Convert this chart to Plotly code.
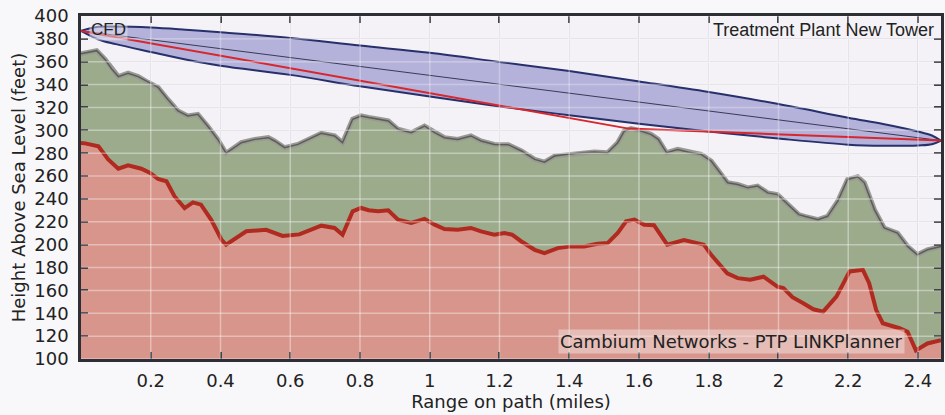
import plotly.graph_objects as go

# ---------------- data ----------------
terrain_dist = [0.0, 0.012, 0.05, 0.078, 0.107, 0.135, 0.173, 0.197, 0.221, 0.245, 0.268,
                0.297, 0.321, 0.344, 0.373, 0.403, 0.416, 0.474, 0.531, 0.578, 0.626, 0.669,
                0.689, 0.727, 0.750, 0.779, 0.803, 0.825, 0.852, 0.881, 0.909, 0.947, 0.985,
                1.014, 1.042, 1.080, 1.118, 1.147, 1.185, 1.214, 1.236, 1.263, 1.301, 1.329,
                1.367, 1.405, 1.443, 1.481, 1.510, 1.539, 1.563, 1.587, 1.615, 1.643, 1.681,
                1.729, 1.786, 1.807, 1.835, 1.853, 1.883, 1.919, 1.957, 1.997, 2.014, 2.040,
                2.071, 2.100, 2.128, 2.166, 2.204, 2.242, 2.260, 2.280, 2.299, 2.347, 2.370,
                2.394, 2.427, 2.466]
terrain_ft = [289.0, 288.6, 286.0, 274.6, 266.4, 269.3, 266.4, 262.9, 257.6, 255.5, 242.4,
              232.0, 237.0, 235.0, 221.9, 204.3, 200.0, 211.7, 213.0, 207.6, 209.0, 214.5,
              216.6, 214.6, 208.7, 229.2, 232.1, 230.1, 229.2, 230.1, 221.9, 219.0, 222.5,
              217.5, 213.7, 213.1, 214.6, 211.6, 208.7, 210.2, 208.7, 202.8, 195.5, 192.6,
              197.0, 198.5, 198.5, 200.8, 201.4, 210.2, 220.4, 221.9, 217.5, 217.0, 200.0,
              204.0, 200.0, 191.1, 180.9, 175.0, 170.7, 169.3, 172.0, 163.3, 162.0, 154.0,
              148.8, 143.5, 141.4, 154.6, 176.6, 178.0, 166.3, 143.0, 131.3, 126.9, 123.8,
              107.5, 113.6, 116.5]

clutter_dist = [0.0, 0.045, 0.069, 0.088, 0.107, 0.135, 0.164, 0.192, 0.221, 0.249, 0.278,
                0.306, 0.335, 0.363, 0.392, 0.416, 0.460, 0.498, 0.537, 0.555, 0.584, 0.622,
                0.660, 0.689, 0.727, 0.750, 0.779, 0.803, 0.825, 0.852, 0.881, 0.909, 0.947,
                0.985, 1.014, 1.042, 1.080, 1.118, 1.147, 1.185, 1.225, 1.263, 1.301, 1.329,
                1.358, 1.396, 1.434, 1.472, 1.510, 1.539, 1.558, 1.577, 1.605, 1.634, 1.655,
                1.679, 1.711, 1.740, 1.778, 1.807, 1.835, 1.854, 1.883, 1.912, 1.940, 1.969,
                1.997, 2.026, 2.058, 2.075, 2.113, 2.141, 2.170, 2.198, 2.227, 2.246, 2.275,
                2.303, 2.341, 2.370, 2.398, 2.427, 2.466]
clutter_ft = [367.0, 369.7, 362.0, 353.6, 347.0, 350.0, 347.0, 342.0, 337.5, 327.0, 317.0,
              312.6, 314.0, 303.8, 292.0, 280.0, 289.2, 292.1, 293.6, 290.7, 284.8, 287.7,
              293.6, 297.4, 295.1, 289.2, 309.7, 312.6, 311.2, 309.7, 308.2, 300.9, 298.0,
              303.8, 298.0, 293.6, 292.1, 295.1, 290.7, 287.7, 287.5, 281.9, 274.6, 272.2,
              277.5, 279.0, 280.4, 281.0, 280.4, 289.2, 299.4, 301.5, 299.4, 296.5, 292.1,
              280.4, 283.3, 281.0, 279.0, 273.1, 261.4, 254.1, 252.6, 249.7, 251.2, 245.3,
              243.8, 235.1, 226.3, 224.8, 221.9, 224.8, 238.0, 257.0, 259.4, 254.1, 230.7,
              214.6, 210.2, 198.5, 191.1, 195.5, 198.5]

fresnel_dist = [0.0, 0.05, 0.1, 0.2, 0.3, 0.4, 0.6, 0.8, 1.0, 1.2, 1.4, 1.6, 1.8, 2.0,
                2.2, 2.3, 2.4, 2.44, 2.466]
fresnel_upper = [387.0, 390.5, 390.8, 389.9, 388.0, 385.8, 380.8, 374.1, 367.8, 359.8,
                 351.8, 342.8, 333.5, 323.0, 311.0, 305.5, 299.0, 295.5, 291.0]
fresnel_lower = [387.0, 379.5, 375.4, 368.6, 362.0, 356.5, 348.5, 338.5, 329.5, 320.8,
                 313.2, 305.8, 299.0, 292.8, 287.5, 286.5, 286.8, 287.8, 291.0]

los_dist = [0.0, 2.466]
los_ft = [387.0, 291.0]

obstr_dist = [0.0, 1.57, 2.466]
obstr_ft = [387.0, 301.5, 291.0]

x_ticks = [0.2, 0.4, 0.6, 0.8, 1.0, 1.2, 1.4, 1.6, 1.8, 2.0, 2.2, 2.4]
x_ticklabels = ["0.2", "0.4", "0.6", "0.8", "1", "1.2", "1.4", "1.6", "1.8", "2", "2.2", "2.4"]
y_ticks = list(range(100, 401, 20))

# ---------------- figure ----------------
fig = go.Figure()

# terrain (red) fill
fig.add_trace(go.Scatter(x=terrain_dist, y=terrain_ft, mode="lines", line=dict(width=0),
                         fill="tozeroy", fillcolor="#d8958b", hoverinfo="skip", showlegend=False))
# clutter (green) fill between terrain and clutter top
fig.add_trace(go.Scatter(x=clutter_dist, y=clutter_ft, mode="lines", line=dict(width=0),
                         fill="tonexty", fillcolor="#9cab8c", hoverinfo="skip", showlegend=False))
# clutter top line (gray, with darker core)
fig.add_trace(go.Scatter(x=clutter_dist, y=clutter_ft, mode="lines",
                         line=dict(color="#9a9a94", width=5), hoverinfo="skip", showlegend=False))
fig.add_trace(go.Scatter(x=clutter_dist, y=clutter_ft, mode="lines",
                         line=dict(color="#5c5c58", width=1.5), hoverinfo="skip", showlegend=False))
# terrain line
fig.add_trace(go.Scatter(x=terrain_dist, y=terrain_ft, mode="lines",
                         line=dict(color="#b02a20", width=4), hoverinfo="skip", showlegend=False))

# Fresnel zone
fig.add_trace(go.Scatter(x=fresnel_dist, y=fresnel_upper, mode="lines", line_shape="spline",
                         line=dict(color="#27306b", width=2), hoverinfo="skip", showlegend=False))
fig.add_trace(go.Scatter(x=fresnel_dist, y=fresnel_lower, mode="lines", line_shape="spline",
                         line=dict(color="#27306b", width=2), fill="tonexty",
                         fillcolor="rgba(128,124,196,0.55)", hoverinfo="skip", showlegend=False))
# center line of sight
fig.add_trace(go.Scatter(x=los_dist, y=los_ft, mode="lines",
                         line=dict(color="#3a3a55", width=1), hoverinfo="skip", showlegend=False))
# red obstruction line
fig.add_trace(go.Scatter(x=obstr_dist, y=obstr_ft, mode="lines",
                         line=dict(color="#d8262c", width=2), hoverinfo="skip", showlegend=False))

# light grid lines drawn over the fills
shapes = []
for yv in y_ticks:
    shapes.append(dict(type="line", xref="paper", x0=0, x1=1, yref="y", y0=yv, y1=yv,
                       line=dict(color="rgba(255,255,255,0.38)", width=1.5), layer="above"))
for xv in x_ticks:
    shapes.append(dict(type="line", xref="x", x0=xv, x1=xv, yref="paper", y0=0, y1=1,
                       line=dict(color="rgba(255,255,255,0.38)", width=1.5), layer="above"))

annotations = [
    dict(x=0.022, y=388.5, xref="x", yref="y", text="CFD", showarrow=False, xanchor="left",
         yanchor="middle", bgcolor="rgba(235,235,245,0.45)",
         font=dict(family="Liberation Sans", size=17, color="#222222")),
    dict(x=2.453, y=388, xref="x", yref="y", text="Treatment Plant New Tower", showarrow=False,
         xanchor="right", yanchor="middle",
         font=dict(family="Liberation Sans", size=18, color="#222222")),
    dict(x=2.362, y=115.5, xref="x", yref="y", text="Cambium Networks - PTP LINKPlanner",
         showarrow=False, xanchor="right", yanchor="middle", bgcolor="rgba(240,222,218,0.55)",
         font=dict(family="DejaVu Sans", size=18, color="#222222")),
]

fig.update_layout(
    width=945, height=415,
    margin=dict(l=81, r=1, t=16, b=56),
    paper_bgcolor="#f8f7fa",
    plot_bgcolor="#f4f2f7",
    font=dict(family="DejaVu Sans", size=18, color="#222222"),
    shapes=shapes,
    annotations=annotations,
    showlegend=False,
)
fig.update_xaxes(
    range=[0, 2.466], tickvals=x_ticks, ticktext=x_ticklabels,
    showgrid=True, gridcolor="#d6d4da", gridwidth=1,
    showline=True, linecolor="#2e2e36", linewidth=2.5, mirror="ticks",
    ticks="inside", ticklen=7, tickwidth=2, tickcolor="#2e2e36",
    tickfont=dict(family="DejaVu Sans", size=18, color="#222222"),
    ticklabelstandoff=4,
    title=dict(text="Range on path (miles)", font=dict(family="DejaVu Sans", size=18),
               standoff=2),
    zeroline=False,
)
fig.update_yaxes(
    range=[100, 400], tickvals=y_ticks,
    showgrid=True, gridcolor="#d6d4da", gridwidth=1,
    showline=True, linecolor="#2e2e36", linewidth=2.5, mirror="ticks",
    ticks="inside", ticklen=7, tickwidth=2, tickcolor="#2e2e36",
    tickfont=dict(family="DejaVu Sans", size=18, color="#222222"),
    ticklabelstandoff=6,
    title=dict(text="Height Above Sea Level (feet)", font=dict(family="DejaVu Sans", size=18),
               standoff=4),
    zeroline=False,
)

fig.write_html(
    "out.html",
    config={"displayModeBar": False},
    post_script="document.body.style.margin='0';document.body.style.overflow='hidden';",
)
